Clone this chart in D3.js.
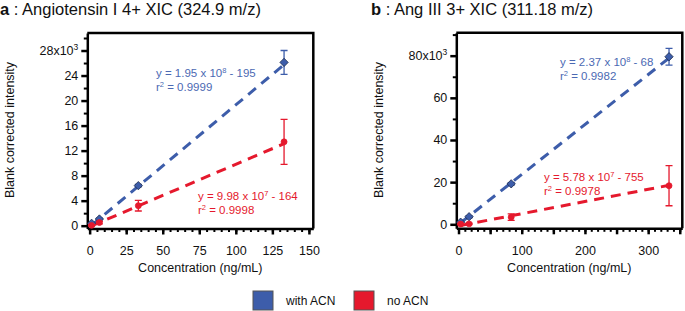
<!DOCTYPE html>
<html>
<head>
<meta charset="utf-8">
<script src="https://cdn.jsdelivr.net/npm/d3@7"></script>
<style>
  body { margin: 0; background: #fff; }
  svg { display: block; font-family: "Liberation Sans", Arial, sans-serif; }
</style>
</head>
<body>
<div id="chart"></div>
<script>
// ----------------------
// Data (intensities in x10^3)
// ----------------------
const concA = [1.33, 6.67, 33.3, 133];
const withAcnA = [0.38, 1.07, 6.4, 26.1];
const withAcnErrA = [0.1, 0.15, 0.2, 1.9];
const noAcnA = [0.05, 0.5, 3.2, 13.4];
const noAcnErrA = [0.1, 0.2, 0.85, 3.6];

const concB = [3.33, 16.7, 83.3, 333];
const withAcnB = [1.0, 3.6, 19.2, 79.5];
const withAcnErrB = [0.3, 0.5, 0.6, 4.0];
const noAcnB = [0.1, 0.2, 3.4, 18.3];
const noAcnErrB = [0.3, 0.3, 1.5, 9.5];

// fit: slope per ng/mL and intercept, both in x10^3
const fitA = { blue: [0.195, -0.195], red: [0.0998, -0.164] };
const fitB = { blue: [0.237, -0.068], red: [0.0578, -0.755] };

const eqA = { blue: ["1.95", "8", "195", "0.9999"], red: ["9.98", "7", "164", "0.9998"] };
const eqB = { blue: ["2.37", "8", "68", "0.9982"], red: ["5.78", "7", "755", "0.9978"] };

const BLUE = "#3d5daa", BLUE_TXT = "#4b69b3", RED = "#e5192d";

const W = 685, H = 311;
const svg = d3.select("#chart").append("svg")
    .attr("width", W).attr("height", H);

// ----------------------
// Panel drawing
// ----------------------
function panel(cfg) {
    const x = d3.scaleLinear().domain(cfg.xDomain).range(cfg.xRange);
    const y = d3.scaleLinear().domain(cfg.yDomain).range(cfg.yRange);
    const g = svg.append("g");

    // frame (top + right)
    g.append("path")
        .attr("d", `M${cfg.xRange[0]},${cfg.yRange[1]}H${cfg.xRange[1]}V${cfg.yRange[0]}`)
        .attr("fill", "none").attr("stroke", "#000").attr("stroke-width", 2.5);

    // minor ticks
    g.append("g")
        .attr("transform", `translate(0,${cfg.yRange[0]})`)
        .call(d3.axisBottom(x).tickValues(cfg.xMinor).tickSize(3.5).tickFormat(""))
        .call(a => a.selectAll("line").attr("stroke-width", 2))
        .call(a => a.select(".domain").remove());
    g.append("g")
        .attr("transform", `translate(${cfg.xRange[0]},0)`)
        .call(d3.axisLeft(y).tickValues(cfg.yMinor).tickSize(3.5).tickFormat(""))
        .call(a => a.selectAll("line").attr("stroke-width", 2))
        .call(a => a.select(".domain").remove());

    // major axes
    const xAx = g.append("g")
        .attr("transform", `translate(0,${cfg.yRange[0]})`)
        .call(d3.axisBottom(x).tickValues(cfg.xMajor).tickSize(6).tickSizeOuter(0)
            .tickFormat(d => cfg.xLabelled.includes(d) ? d : ""));
    const yAx = g.append("g")
        .attr("transform", `translate(${cfg.xRange[0]},0)`)
        .call(d3.axisLeft(y).tickValues(cfg.yMajor).tickSize(6).tickSizeOuter(0));
    [xAx, yAx].forEach(a => {
        a.select(".domain").attr("stroke-width", 2.5);
        a.selectAll("line").attr("stroke-width", 2.5);
        a.selectAll("text").attr("font-size", 12.5).attr("fill", "#111")
            .attr("font-family", "'Liberation Sans', Arial, sans-serif");
    });
    xAx.selectAll("text").attr("dy", "1.4em");
    yAx.selectAll("text").attr("x", -9).each(function(d) {
        if (d === cfg.yMajor[cfg.yMajor.length - 1]) {
            const t = d3.select(this).text(d + "x10");
            t.append("tspan").attr("font-size", 8.5).attr("dy", -5).text("3");
        }
    });

    // axis titles
    g.append("text")
        .attr("x", (cfg.xRange[0] + cfg.xRange[1]) / 2).attr("y", 272)
        .attr("text-anchor", "middle").attr("font-size", 12.5).attr("fill", "#111")
        .text("Concentration (ng/mL)");
    g.append("text")
        .attr("transform", `translate(${cfg.yTitleX},130) rotate(-90)`)
        .attr("text-anchor", "middle").attr("font-size", 12.5).attr("fill", "#111")
        .text("Blank corrected intensity");

    // panel title
    const tt = g.append("text").attr("x", cfg.titleX).attr("y", 15)
        .attr("font-size", 16.5).attr("fill", "#111");
    tt.append("tspan").attr("font-weight", "bold").text(cfg.letter);
    tt.append("tspan").text(" : " + cfg.title);

    // fit lines
    const series = [
        { key: "blue", vals: cfg.blue, err: cfg.blueErr, color: BLUE, txt: BLUE_TXT },
        { key: "red", vals: cfg.red, err: cfg.redErr, color: RED, txt: RED }
    ];
    series.forEach(s => {
        const [m, b] = cfg.fit[s.key];
        const x0 = cfg.conc[0], x1 = cfg.conc[cfg.conc.length - 1];
        g.append("line")
            .attr("x1", x(x0)).attr("y1", y(m * x0 + b))
            .attr("x2", x(x1)).attr("y2", y(m * x1 + b))
            .attr("stroke", s.color).attr("stroke-width", 3)
            .attr("stroke-dasharray", "10,7");
    });

    // error bars + markers
    series.forEach(s => {
        cfg.conc.forEach((c, i) => {
            const cx = x(c), lo = y(s.vals[i] - s.err[i]), hi = y(s.vals[i] + s.err[i]);
            g.append("path")
                .attr("d", `M${cx},${lo}V${hi}M${cx - 3.5},${lo}h7M${cx - 3.5},${hi}h7`)
                .attr("stroke", s.color).attr("stroke-width", 1.3).attr("fill", "none");
        });
        g.selectAll(null).data(cfg.conc).enter()
            .append("path")
            .attr("transform", (c, i) => `translate(${x(c)},${y(s.vals[i])})`)
            .attr("d", s.key === "blue"
                ? d3.symbol(d3.symbolDiamond2, 44)()
                : d3.symbol(d3.symbolCircle, 28)())
            .attr("fill", s.color)
            .attr("stroke", s.key === "blue" ? "#1c2a4a" : s.color)
            .attr("stroke-width", 0.8);
    });

    // equations
    series.forEach(s => {
        const e = cfg.eq[s.key], p = cfg.eqPos[s.key];
        const t1 = g.append("text").attr("x", p[0]).attr("y", p[1])
            .attr("font-size", 11.5).attr("fill", s.txt);
        t1.append("tspan").text(`y = ${e[0]} x 10`);
        t1.append("tspan").attr("font-size", 7.5).attr("dy", -4).text(e[1]);
        t1.append("tspan").attr("dy", 4).text(` - ${e[2]}`);
        const t2 = g.append("text").attr("x", p[0]).attr("y", p[1] + 13.5)
            .attr("font-size", 11.5).attr("fill", s.txt);
        t2.append("tspan").text("r");
        t2.append("tspan").attr("font-size", 7.5).attr("dy", -4).text("2");
        t2.append("tspan").attr("dy", 4).text(` = ${e[3]}`);
    });
}

panel({
    letter: "a", title: "Angiotensin I 4+ XIC (324.9 m/z)", titleX: 0,
    xDomain: [-1.6, 153], xRange: [87.3, 313.3],
    yDomain: [-0.45, 30.8], yRange: [228.5, 33],
    xMajor: d3.range(0, 151, 25), xLabelled: d3.range(0, 151, 25), xMinor: d3.range(5, 151, 5),
    yMajor: d3.range(0, 29, 4), yMinor: d3.range(2, 31, 4),
    conc: concA, blue: withAcnA, blueErr: withAcnErrA, red: noAcnA, redErr: noAcnErrA,
    fit: fitA, eq: eqA,
    eqPos: { blue: [156, 77], red: [198, 200] },
    yTitleX: 14
});

panel({
    letter: "b", title: "Ang III 3+ XIC (311.18 m/z)", titleX: 371,
    xDomain: [-3.5, 354], xRange: [456.3, 682.3],
    yDomain: [-1.9, 90.9], yRange: [228.3, 32.7],
    xMajor: d3.range(0, 351, 50), xLabelled: [0, 100, 200, 300], xMinor: d3.range(10, 351, 10),
    yMajor: d3.range(0, 81, 20), yMinor: d3.range(10, 91, 20),
    conc: concB, blue: withAcnB, blueErr: withAcnErrB, red: noAcnB, redErr: noAcnErrB,
    fit: fitB, eq: eqB,
    eqPos: { blue: [560, 66], red: [544, 181] },
    yTitleX: 383
});

// ----------------------
// Legend
// ----------------------
const legendItems = [
    { label: "with ACN", color: BLUE, x: 253 },
    { label: "no ACN", color: RED, x: 354 }
];
const lg = svg.append("g");
legendItems.forEach(d => {
    lg.append("rect").attr("x", d.x).attr("y", 291).attr("width", 20).attr("height", 19)
        .attr("fill", d.color).attr("stroke", "#555").attr("stroke-width", 1);
    lg.append("text").attr("x", d.x + 33).attr("y", 304.5)
        .attr("font-size", 12).attr("fill", "#111").text(d.label);
});
</script>
</body>
</html>
